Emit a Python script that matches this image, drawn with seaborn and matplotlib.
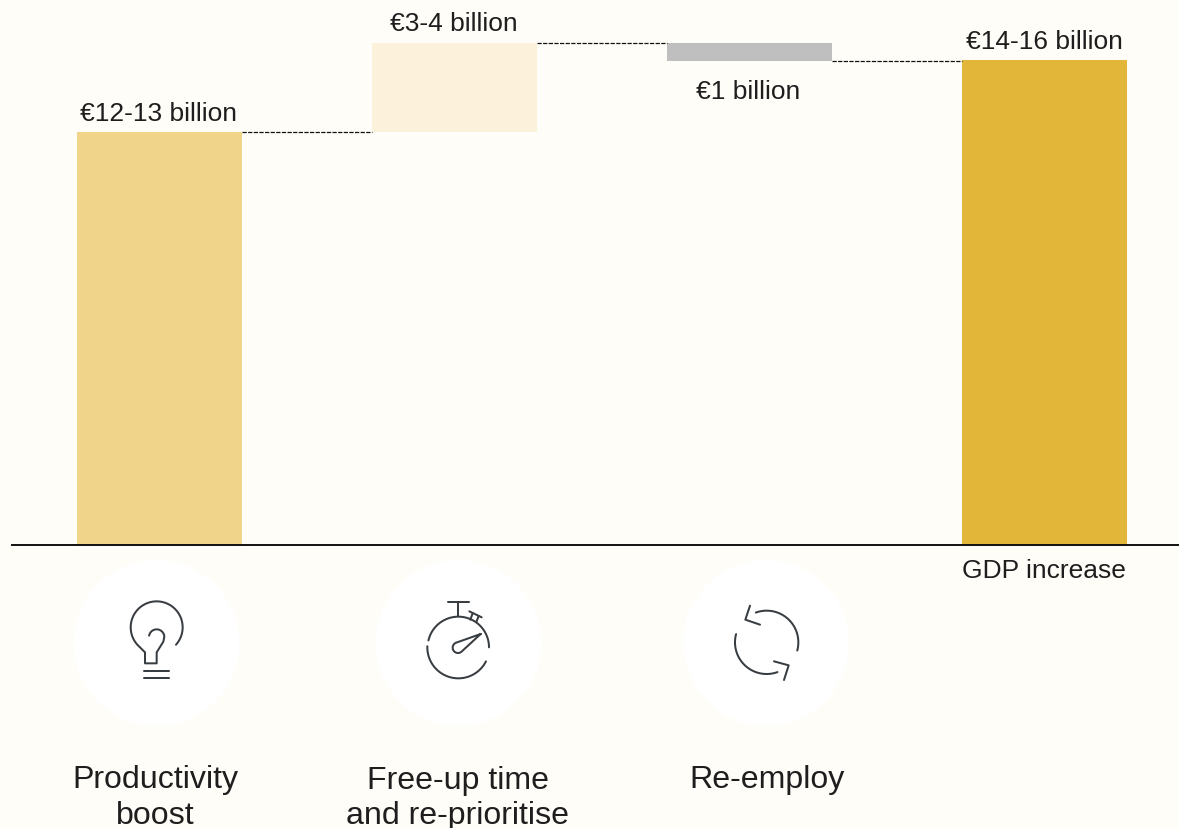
import numpy as np
import matplotlib
matplotlib.use("Agg")
import matplotlib.pyplot as plt
from matplotlib.patches import Circle
import seaborn as sns

categories = ["Productivity boost", "Free-up time and re-prioritise", "Re-employ", "GDP increase"]
bar_heights = [12.5, 2.7, 0.55, 14.68]
bar_bottoms = [0.0, 12.5, 14.65, 0.0]
bar_colors = ["#F0D48A", "#FCF1DB", "#BFBFBF", "#E2B739"]
value_labels = ["€12-13 billion", "€3-4 billion", "€1 billion", "€14-16 billion"]

BG = "#FFFDF8"
INK = "#383D42"
TXT = "#1E1E1E"
W, H = 1179, 829
BASE = 546

sns.set_theme(style="white")
plt.rcParams["font.family"] = ["Liberation Sans", "DejaVu Sans"]

fig = plt.figure(figsize=(W / 100, H / 100), dpi=100, facecolor=BG)
ax = fig.add_axes([0, 1 - BASE / H, 1, BASE / H], facecolor="none")

bar_w = 164.5 / 295
for cat, h, b, c in zip(categories, bar_heights, bar_bottoms, bar_colors):
    sns.barplot(x=[cat], y=[h], bottom=b, order=categories, color=c,
                saturation=1, width=bar_w, linewidth=0, ax=ax)

ax.set_xlim((0 - 159.3) / 295, (W - 159.3) / 295)
ax.set_ylim(0, BASE / 33.04)
ax.set_xlabel("")
ax.set_ylabel("")
ax.set_xticks([])
ax.set_yticks([])
for s in ["top", "left", "right"]:
    ax.spines[s].set_visible(False)
ax.spines["bottom"].set_color("#111111")
ax.spines["bottom"].set_linewidth(1.4)
ax.spines["bottom"].set_bounds((12 - 159.3) / 295, (W - 159.3) / 295)

# dashed connectors between consecutive bar levels
levels = [bar_bottoms[0] + bar_heights[0], bar_bottoms[1] + bar_heights[1], bar_bottoms[2]]
for i, lv in enumerate(levels):
    ax.plot([i + bar_w / 2, i + 1 - bar_w / 2], [lv, lv], color="#111111",
            lw=0.9, dashes=(3.4, 1.1))

# overlay in pixel coordinates for texts and icons
ov = fig.add_axes([0, 0, 1, 1], facecolor="none")
ov.set_xlim(0, W)
ov.set_ylim(H, 0)
ov.axis("off")

fs_val = 19.0
fs_cat = 23.1
for x, y, s in zip([158.5, 453.5, 748, 1044], [114, 24, 92, 42], value_labels):
    ov.text(x, y, s, ha="center", va="center", fontsize=fs_val, color=TXT)
ov.text(1044, 571, "GDP increase", ha="center", va="center", fontsize=fs_val, color=TXT)
ov.text(155, 780, "Productivity", ha="center", va="center", fontsize=fs_cat, color=TXT)
ov.text(155, 816, "boost", ha="center", va="center", fontsize=fs_cat, color=TXT)
ov.text(458, 781, "Free-up time", ha="center", va="center", fontsize=fs_cat, color=TXT)
ov.text(458, 816, "and re-prioritise", ha="center", va="center", fontsize=fs_cat, color=TXT)
ov.text(767, 780, "Re-employ", ha="center", va="center", fontsize=fs_cat, color=TXT)


def draw(ox, oy, xs, ys):
    ov.plot(ox + np.asarray(xs) / 3, oy + np.asarray(ys) / 3, color=INK, lw=1.45,
            solid_capstyle="round", solid_joinstyle="round")


def arc(cx, cy, r, a0, a1, n=80):
    t = np.radians(np.linspace(a0, a1, n))
    return cx + r * np.cos(t), cy - r * np.sin(t)


for cx in [156.5, 458.5, 766]:
    ov.add_patch(Circle((cx, 644), 83, facecolor="white", edgecolor="none"))

# light bulb
ox, oy = 60, 550
ax_, ay_ = arc(290, 235, 78, -42, 222)
hx, hy = arc(290, 264, 23, 0, 170)
draw(ox, oy,
     np.r_[ax_, 255, 255, 290, 290, 310, hx],
     np.r_[ay_, 310, 343, 343, 310, 278, hy])
draw(ox, oy, [252, 328], [365, 365])
draw(ox, oy, [252, 328], [387, 387])

# stopwatch
ox, oy = 365, 550
xs, ys = arc(280, 295, 92, 0, 167)
draw(ox, oy, xs, ys)
xs, ys = arc(280, 295, 93, 178, 333)
draw(ox, oy, xs, ys)
draw(ox, oy, [280, 280], [158, 200])
draw(ox, oy, [248, 313], [158, 158])
draw(ox, oy, [313, 350], [187, 205])
draw(ox, oy, [323, 316], [193, 212])
draw(ox, oy, [341, 334], [201, 219])
nx, ny = arc(279, 296, 16, 105, 310)
draw(ox, oy, np.r_[347, nx, 347], np.r_[255, ny, 255])

# refresh arrows
ox, oy = 670, 550
xs, ys = arc(290, 280, 95, 110, -15)
draw(ox, oy, xs, ys)
draw(ox, oy, [240, 226, 270], [170, 212, 227])
xs, ys = arc(290, 280, 95, 165, 290)
draw(ox, oy, xs, ys)
draw(ox, oy, [312, 356, 342], [337, 349, 393])

fig.savefig("out.png", dpi=100, facecolor=BG)
